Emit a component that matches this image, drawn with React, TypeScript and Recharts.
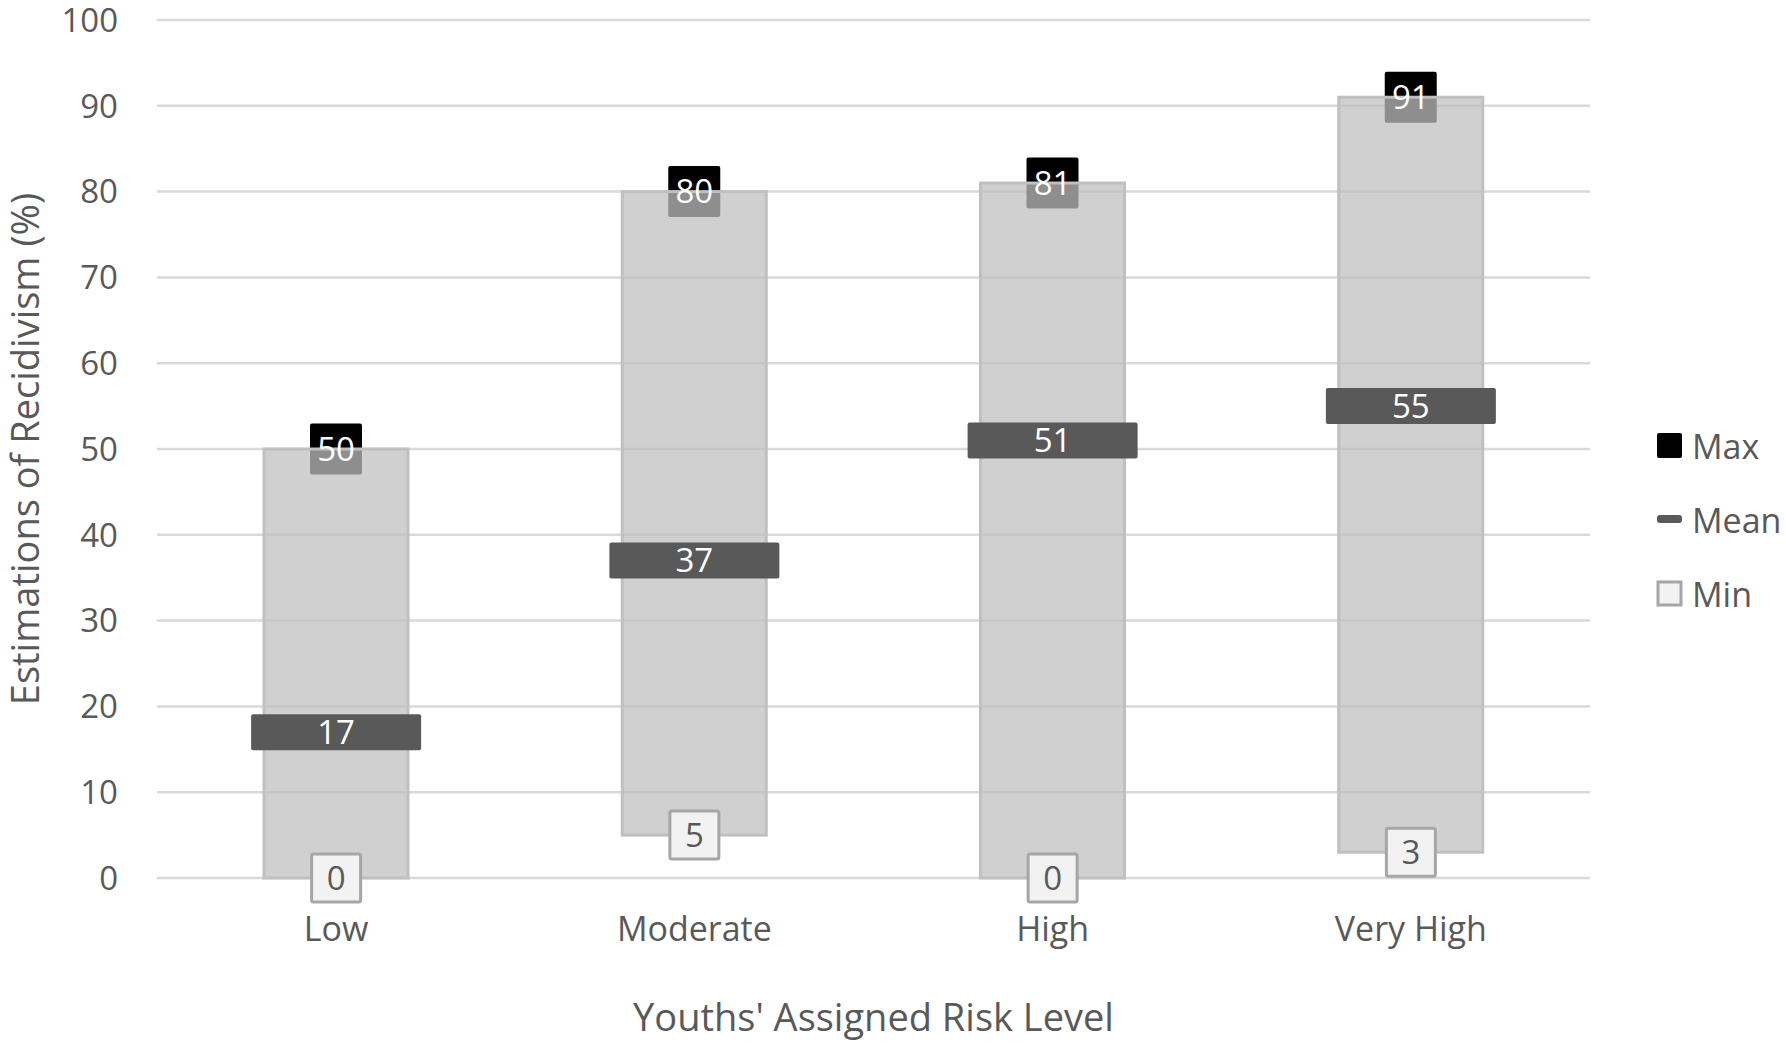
import { ComposedChart, Bar, Scatter, XAxis, YAxis, CartesianGrid } from 'recharts';

const categories = ['Low', 'Moderate', 'High', 'Very High'];
const minValues = [0, 5, 0, 3];
const meanValues = [17, 37, 51, 55];
const maxValues = [50, 80, 81, 91];
const yTicks = [0, 10, 20, 30, 40, 50, 60, 70, 80, 90, 100];
const legendItems = ['Max', 'Mean', 'Min'];

const data = categories.map((cat, i) => ({
  cat,
  min: minValues[i],
  mean: meanValues[i],
  max: maxValues[i],
  range: [minValues[i], maxValues[i]],
}));

const FONT = '"Open Sans", sans-serif';
const TEXT = '#595959';

// range bar, with the max marker drawn underneath it
const RangeShape = (props: any) => {
  const { x, y, width, height, payload } = props;
  const cx = x + width / 2;
  return (
    <g>
      <rect x={cx - 26} y={y - 25.5} width={52} height={51} rx={2} fill="#000" />
      <rect x={x} y={y} width={width} height={height} fill="rgba(192,192,192,0.74)" stroke="#c0c0c0" strokeWidth={3} />
      <text x={cx} y={y} dy="0.36em" textAnchor="middle" fill="#fff" fontSize={33} fontFamily={FONT}>
        {payload.max}
      </text>
    </g>
  );
};

const MeanShape = (props: any) => {
  const { cx, cy, payload } = props;
  return (
    <g>
      <rect x={cx - 85} y={cy - 18} width={170} height={36} rx={2} fill="#595959" />
      <text x={cx} y={cy} dy="0.36em" textAnchor="middle" fill="#fff" fontSize={33} fontFamily={FONT}>
        {payload.mean}
      </text>
    </g>
  );
};

const MinShape = (props: any) => {
  const { cx, cy, payload } = props;
  return (
    <g>
      <rect x={cx - 24.5} y={cy - 24} width={49} height={48} rx={2} fill="#f2f2f2" stroke="#a6a6a6" strokeWidth={3} />
      <text x={cx} y={cy} dy="0.36em" textAnchor="middle" fill={TEXT} fontSize={33} fontFamily={FONT}>
        {payload.min}
      </text>
    </g>
  );
};

const LegendIcon = ({ name }: { name: string }) => {
  if (name === 'Max') return <rect x={1} y={1} width={25} height={25} rx={2} fill="#000" />;
  if (name === 'Mean') return <rect x={1} y={9} width={25} height={8} rx={3} fill="#595959" />;
  return <rect x={2} y={2} width={23} height={23} fill="#f2f2f2" stroke="#a6a6a6" strokeWidth={3} />;
};

export default function App() {
  return (
    <div style={{ position: 'absolute', left: 0, top: 0, width: 1786, height: 1045, background: '#fff' }}>
      <ComposedChart
        width={1786}
        height={1045}
        data={data}
        margin={{ top: 20, right: 196, bottom: 107, left: 37 }}
      >
        <CartesianGrid vertical={false} stroke="#d9d9d9" strokeWidth={2.5} />
        <XAxis
          dataKey="cat"
          type="category"
          axisLine={false}
          tickLine={false}
          height={60}
          tickSize={0}
          tickMargin={39}
          tick={{ fill: TEXT, fontSize: 34, fontFamily: FONT }}
          label={{
            content: (p: any) => (
              <text x={p.viewBox.x + p.viewBox.width / 2} y={1017} dy="0.36em" textAnchor="middle" fill={TEXT} fontSize={38} fontFamily={FONT}>
                Youths' Assigned Risk Level
              </text>
            ),
          }}
        />
        <YAxis
          domain={[0, 100]}
          ticks={yTicks}
          axisLine={false}
          tickLine={false}
          width={120}
          tickSize={0}
          tickMargin={39}
          interval={0}
          tick={{ fill: TEXT, fontSize: 33, fontFamily: FONT }}
          label={{
            content: (p: any) => {
              const cy = p.viewBox.y + p.viewBox.height / 2;
              return (
                <text x={25} y={cy} dy="0.36em" textAnchor="middle" transform={`rotate(-90 25 ${cy})`} fill={TEXT} fontSize={38} fontFamily={FONT}>
                  Estimations of Recidivism (%)
                </text>
              );
            },
          }}
        />
        <Bar dataKey="range" barSize={144} shape={RangeShape} isAnimationActive={false} />
        <Scatter dataKey="mean" shape={MeanShape} isAnimationActive={false} />
        <Scatter dataKey="min" shape={MinShape} isAnimationActive={false} />
      </ComposedChart>
      <div style={{ position: 'absolute', left: 1656, top: 427, fontFamily: FONT, fontSize: 34, color: TEXT }}>
        {legendItems.map((name) => (
          <div key={name} style={{ display: 'flex', alignItems: 'center', height: 38, marginBottom: 36 }}>
            <svg width={28} height={28} style={{ marginRight: 8 }}>
              <LegendIcon name={name} />
            </svg>
            <span>{name}</span>
          </div>
        ))}
      </div>
    </div>
  );
}
